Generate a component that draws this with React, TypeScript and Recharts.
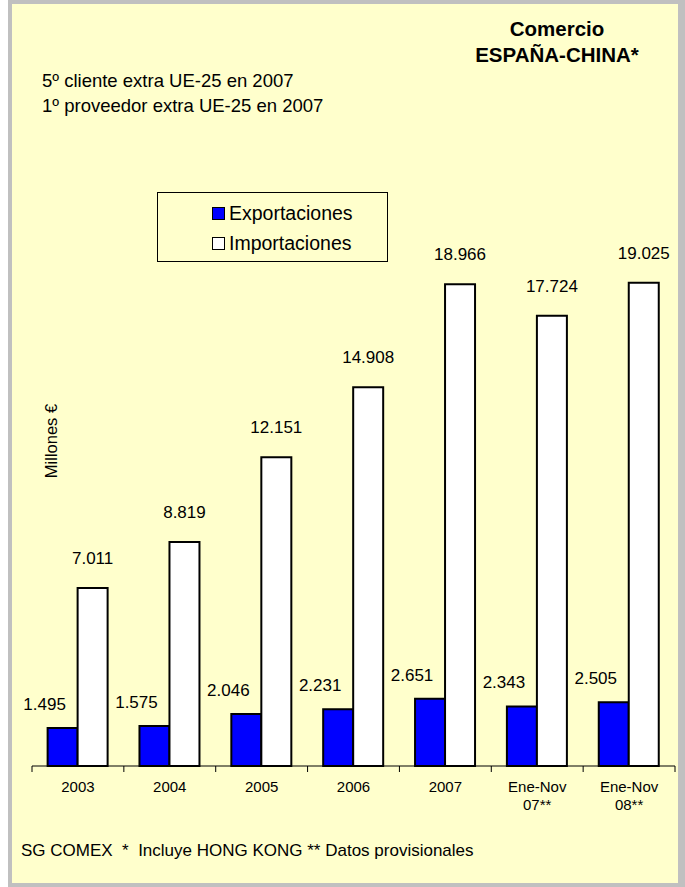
import { BarChart, Bar, XAxis, YAxis, LabelList } from 'recharts';

const categories = ['2003', '2004', '2005', '2006', '2007', 'Ene-Nov\n07**', 'Ene-Nov\n08**'];
const exportaciones = [1495, 1575, 2046, 2231, 2651, 2343, 2505];
const importaciones = [7011, 8819, 12151, 14908, 18966, 17724, 19025];

const series = [
  { key: 'Exportaciones', fill: '#0000FF' },
  { key: 'Importaciones', fill: '#FFFFFF' },
];

const data = categories.map((c, i) => ({
  name: c,
  Exportaciones: exportaciones[i],
  Importaciones: importaciones[i],
}));

const FONT = '"Liberation Sans", Arial, sans-serif';
const W = 685;
const H = 887;
const MARGIN = { top: 258, right: 10, left: 32, bottom: 91 };
const BAND = (W - MARGIN.left - MARGIN.right) / categories.length;

// 1495 -> "1.495"
const fmt = (v: number) => String(v).replace(/\B(?=(\d{3})+(?!\d))/g, '.');

function CategoryTick(props: any) {
  const { x, y, payload, index } = props;
  const lines = String(payload.value).split('\n');
  const left = x - BAND / 2;
  return (
    <g>
      <line x1={left} x2={left} y1={y} y2={y + 6} stroke="#000" />
      {index === categories.length - 1 && (
        <line x1={x + BAND / 2} x2={x + BAND / 2} y1={y} y2={y + 6} stroke="#000" />
      )}
      {lines.map((l, i) => (
        <text key={i} x={x} y={y + 26 + i * 18} textAnchor="middle" fontSize={15} fill="#000" fontFamily={FONT}>
          {l}
        </text>
      ))}
    </g>
  );
}

function makeLabel(dx: number, lift: number) {
  return (p: any) => {
    const { x, y, width, value } = p;
    return (
      <text x={x + width / 2 + dx} y={y - lift} textAnchor="middle" fontSize={17} fill="#000" fontFamily={FONT}>
        {fmt(value)}
      </text>
    );
  };
}

export default function App() {
  return (
    <div style={{ position: 'fixed', left: 0, top: 0, width: W, height: H, fontFamily: FONT }}>
      <div
        style={{
          position: 'absolute',
          left: 8,
          top: 0,
          width: 677,
          height: H,
          boxSizing: 'border-box',
          borderStyle: 'solid',
          borderColor: '#C0C0C0',
          borderWidth: '4px 7px 4px 4px',
          background: '#FFFFCC',
        }}
      />
      <div style={{ position: 'absolute', left: 437, width: 240, top: 16, textAlign: 'center', fontWeight: 'bold', fontSize: 20.5, lineHeight: '26px' }}>
        Comercio
        <br />
        ESPAÑA-CHINA*
      </div>
      <div style={{ position: 'absolute', left: 42, top: 68, fontSize: 18.5, lineHeight: '25px' }}>
        5º cliente extra UE-25 en 2007
        <br />
        1º proveedor extra UE-25 en 2007
      </div>
      <div
        style={{
          position: 'absolute',
          left: 51,
          top: 441,
          fontSize: 16.5,
          whiteSpace: 'nowrap',
          transform: 'translate(-50%, -50%) rotate(-90deg)',
        }}
      >
        Millones €
      </div>
      <div style={{ position: 'absolute', left: 21, top: 841, fontSize: 17, whiteSpace: 'pre' }}>
        {'SG COMEX  *  Incluye HONG KONG ** Datos provisionales'}
      </div>
      <div
        style={{
          position: 'absolute',
          left: 157,
          top: 192,
          width: 231,
          height: 70,
          border: '1px solid #000',
          boxSizing: 'border-box',
          fontSize: 19.5,
          paddingLeft: 54,
          paddingTop: 5,
        }}
      >
        {series.map((s) => (
          <div key={s.key} style={{ display: 'flex', alignItems: 'center', height: 30 }}>
            <span
              style={{
                display: 'inline-block',
                width: 11,
                height: 11,
                border: '1px solid #000',
                background: s.fill,
                marginRight: 4,
              }}
            />
            {s.key}
          </div>
        ))}
      </div>
      <div style={{ position: 'absolute', left: 0, top: 0 }}>
        <BarChart width={W} height={H} data={data} margin={MARGIN} barCategoryGap="17%" barGap={0}>
          <XAxis
            dataKey="name"
            height={30}
            tickSize={0}
            tickMargin={0}
            tickLine={false}
            axisLine={{ stroke: '#000' }}
            interval={0}
            tick={<CategoryTick />}
          />
          <YAxis hide domain={[0, 20000]} />
          {series.map((s, si) => (
            <Bar key={s.key} dataKey={s.key} fill={s.fill} stroke="#000" strokeWidth={2} isAnimationActive={false}>
              <LabelList dataKey={s.key} content={si === 0 ? makeLabel(-18, 18) : makeLabel(0, 24)} />
            </Bar>
          ))}
        </BarChart>
      </div>
    </div>
  );
}
